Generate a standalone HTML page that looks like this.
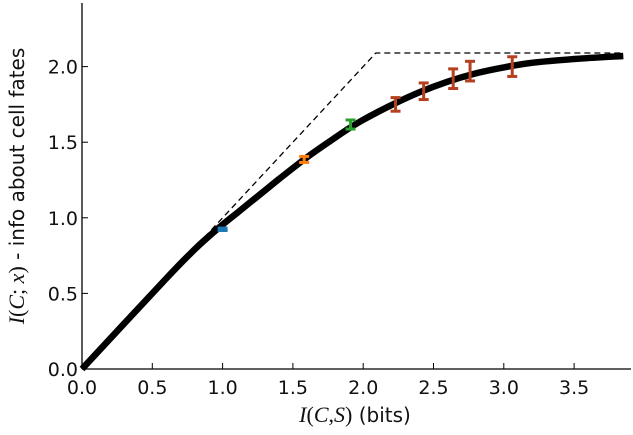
<!DOCTYPE html>
<html><head><meta charset="utf-8"><style>
html,body{margin:0;padding:0;background:#fff;}
svg{display:block;font-family:"DejaVu Sans","Liberation Sans",sans-serif;}
</style></head><body>
<svg width="633" height="435" viewBox="0 0 633 435">
<g id="plot"></g>
</svg>
<script>
const xTicks=[0,0.5,1.0,1.5,2.0,2.5,3.0,3.5];
const xTickLabels=["0.0","0.5","1.0","1.5","2.0","2.5","3.0","3.5"];
const yTicks=[0,0.5,1.0,1.5,2.0];
const yTickLabels=["0.0","0.5","1.0","1.5","2.0"];
const curveX=[0,0.6,0.8,0.9,1.0,1.1,1.2,1.4,1.6,1.8,1.9,2.0,2.2,2.4,2.6,2.8,3.0,3.2,3.5,3.85];
const curveY=[0,0.6,0.79,0.875,0.955,1.03,1.105,1.255,1.40,1.53,1.592,1.648,1.745,1.83,1.9,1.955,1.995,2.025,2.05,2.07];
const boundX=[0,2.09,3.85];
const boundY=[0,2.09,2.09];
const ptX=[1.0,1.58,1.91,2.23,2.43,2.64,2.76,3.06];
const ptY=[0.924,1.386,1.617,1.75,1.837,1.92,1.97,2.0];
const ptErr=[0.008,0.02,0.03,0.045,0.055,0.065,0.065,0.065];
const ptColor=["#1f77b4","#ff7f0e","#2ca02c","#b5401f","#b5401f","#b5401f","#b5401f","#b5401f"];

const X0=82,XU=140.6,Y0=369,YU=151.2;
const sx=v=>X0+v*XU, sy=v=>Y0-v*YU;
const NS="http://www.w3.org/2000/svg";
const g=document.getElementById('plot');
function mk(t,a,txt){const e=document.createElementNS(NS,t);for(const k in a)e.setAttribute(k,a[k]);if(txt!==undefined)e.textContent=txt;g.appendChild(e);return e;}

let d=boundX.map((v,i)=>(i?'L':'M')+sx(v)+','+sy(boundY[i])).join('');
let b=mk('path',{d:d,fill:'none',stroke:'#000','stroke-width':1.3,'stroke-dasharray':'6,4'});



const P=curveX.map((v,i)=>[sx(v),sy(curveY[i])]);
d='M'+P[0][0]+','+P[0][1];
for(let i=0;i<P.length-1;i++){
  const p0=P[Math.max(0,i-1)],p1=P[i],p2=P[i+1],p3=P[Math.min(P.length-1,i+2)];
  const c1=[p1[0]+(p2[0]-p0[0])/6,p1[1]+(p2[1]-p0[1])/6];
  const c2=[p2[0]-(p3[0]-p1[0])/6,p2[1]-(p3[1]-p1[1])/6];
  d+=`C${c1[0].toFixed(1)},${c1[1].toFixed(1)} ${c2[0].toFixed(1)},${c2[1].toFixed(1)} ${p2[0].toFixed(1)},${p2[1].toFixed(1)}`;
}
let c=mk('path',{d:d,fill:'none',stroke:'#000','stroke-width':6.5,'stroke-linejoin':'round'});



ptX.forEach((v,i)=>{
  const x=sx(v),y1=sy(ptY[i]-ptErr[i]),y2=sy(ptY[i]+ptErr[i]);
  const col=ptColor[i];
  const gg=document.createElementNS(NS,'g');
  
  
  gg.innerHTML=`<line x1="${x}" x2="${x}" y1="${y1}" y2="${y2}" stroke="${col}" stroke-width="3"/>`+
   `<line x1="${x-5}" x2="${x+5}" y1="${y1}" y2="${y1}" stroke="${col}" stroke-width="3"/>`+
   `<line x1="${x-5}" x2="${x+5}" y1="${y2}" y2="${y2}" stroke="${col}" stroke-width="3"/>`;
  g.appendChild(gg);
});

let ax=mk('line',{x1:X0,x2:X0,y1:3,y2:Y0,stroke:'#000','stroke-width':1.3});

ax=mk('line',{x1:X0,x2:631,y1:Y0,y2:Y0,stroke:'#000','stroke-width':1.3});


xTicks.forEach((v,i)=>{
  mk('line',{x1:sx(v),x2:sx(v),y1:Y0,y2:Y0-6,stroke:'#000','stroke-width':1});
  const t=mk('text',{x:sx(v),y:Y0+25,'text-anchor':'middle','font-size':19,fill:'#111'},xTickLabels[i]);
  
});
yTicks.forEach((v,i)=>{
  mk('line',{x1:X0,x2:X0+6,y1:sy(v),y2:sy(v),stroke:'#000','stroke-width':1});
  const t=mk('text',{x:X0-4,y:sy(v)+7,'text-anchor':'end','font-size':19,fill:'#111'},yTickLabels[i]);
  
});

let xl=mk('text',{x:355,y:422,'text-anchor':'middle','font-size':20,fill:'#111'});
xl.innerHTML='<tspan font-family="Liberation Serif,serif" font-style="italic" font-size="22">I</tspan><tspan font-family="Liberation Serif,serif" font-size="22">(</tspan><tspan font-family="Liberation Serif,serif" font-style="italic" font-size="22">C</tspan><tspan font-family="Liberation Serif,serif" font-size="22">,</tspan><tspan font-family="Liberation Serif,serif" font-style="italic" font-size="22">S</tspan><tspan font-family="Liberation Serif,serif" font-size="22">)</tspan> (bits)';


let yl=mk('text',{x:0,y:0,'text-anchor':'middle','font-size':20,fill:'#111',transform:'translate(24,186) rotate(-90)'});
yl.innerHTML='<tspan font-family="Liberation Serif,serif" font-style="italic" font-size="22">I</tspan><tspan font-family="Liberation Serif,serif" font-size="22">(</tspan><tspan font-family="Liberation Serif,serif" font-style="italic" font-size="22">C</tspan><tspan font-family="Liberation Serif,serif" font-size="22">; </tspan><tspan font-family="Liberation Serif,serif" font-style="italic" font-size="22">x</tspan><tspan font-family="Liberation Serif,serif" font-size="22">)</tspan> - info about cell fates';

</script>
</body></html>
